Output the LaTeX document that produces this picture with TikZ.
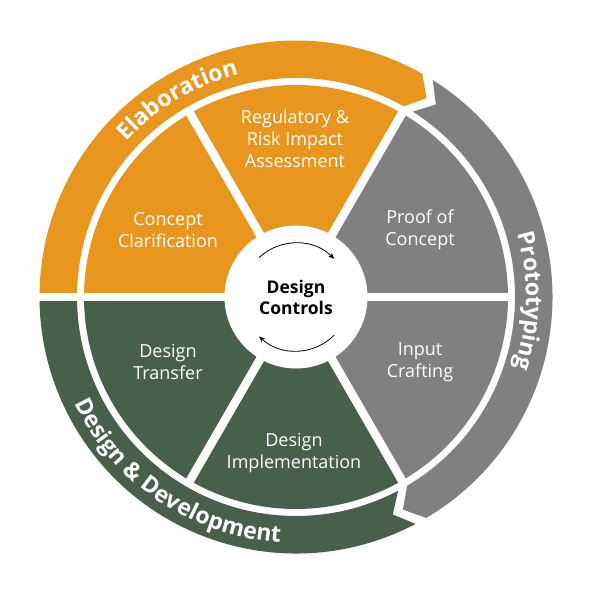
\documentclass[tikz,border=0pt]{standalone}
\usepackage{fontspec}
\setmainfont{Open Sans}
\usetikzlibrary{decorations.text, arrows.meta}
\definecolor{cOrange}{RGB}{232,150,30}
\definecolor{cGray}{RGB}{128,128,128}
\definecolor{cGreen}{RGB}{70,96,74}
\newcommand\bandfont{\bfseries\fontsize{23}{27}\selectfont}
\tikzset{
  sep/.style={draw=white, line width=8.5pt},
  lbl/.style={text=white, align=center, font=\fontsize{18}{22}\selectfont},
  ctr/.style={text=black, align=center, font=\bfseries\fontsize{17.5}{21}\selectfont},
  cyc/.style={draw=black, line width=0.8pt, -{Stealth[length=6pt,width=5pt]}},
  bandtext/.style={decorate, decoration={text along path, text align=center, text color=white, text={#1}}}
}
\begin{document}
\begin{tikzpicture}[x=1pt,y=1pt]
\useasboundingbox (-296,-295) rectangle (296,297);
% sectors
\fill[cOrange] (0,0) -- (60:212) arc[start angle=60,end angle=180,radius=212] -- cycle;
\fill[cGray] (0,0) -- (-60:212) arc[start angle=-60,end angle=60,radius=212] -- cycle;
\fill[cGreen] (0,0) -- (180:212) arc[start angle=180,end angle=300,radius=212] -- cycle;
% bands
\fill[cOrange] (180:256.5) arc[start angle=180,end angle=60.5,radius=256.5]
  -- (56.7:238) -- (60.5:219) arc[start angle=60.5,end angle=180,radius=219] -- cycle;
\fill[cGray] (57.8:256.5) arc[start angle=57.8,end angle=-59.5,radius=256.5]
  -- (-63.3:238) -- (-59.5:219) arc[start angle=-59.5,end angle=57.8,radius=219]
  -- (54:238) -- cycle;
\fill[cGreen] (-62.2:256.5) arc[start angle=-62.2,end angle=-180,radius=256.5]
  -- (180:219) arc[start angle=-180,end angle=-62.2,radius=219] -- (-66:238) -- cycle;
% separators
\foreach \a in {0,60,120,240,300} \draw[sep] (0,0) -- (\a:215);
\draw[sep] (0,0) -- (180:262);
\fill[white] (0,0) circle[radius=71.5];
% band texts
\path[bandtext={|\bandfont|Elaboration}] (181:230) arc[start angle=181,end angle=61,radius=230];
\path[bandtext={|\bandfont|Prototyping}] (59:230) arc[start angle=59,end angle=-61,radius=230];
\path[bandtext={|\bandfont|Design {\&} Development}] (174:246) arc[start angle=174,end angle=298,radius=246];
% sector labels
\node[lbl] (cc) at (-128,67) {Concept\\Clarification};
\node[lbl] (rr) at (-1,158) {Regulatory \&\\Risk Impact\\Assessment};
\node[lbl] (pc) at (124,67) {Proof of\\Concept};
\node[lbl] (ic) at (124,-65) {Input\\Crafting};
\node[lbl] (dt) at (-128,-65) {Design\\Transfer};
\node[lbl] (di) at (-2,-156) {Design\\Implementation};
\node[ctr] (dc) at (0,0) {Design\\Controls};
% cycle arrows
\coordinate (t1) at (133:54);
\coordinate (b1) at (-45:54);
\draw[cyc] (t1) arc[start angle=133,end angle=45,radius=54];
\draw[cyc] (b1) arc[start angle=-45,end angle=-133,radius=54];
\end{tikzpicture}
\end{document}
